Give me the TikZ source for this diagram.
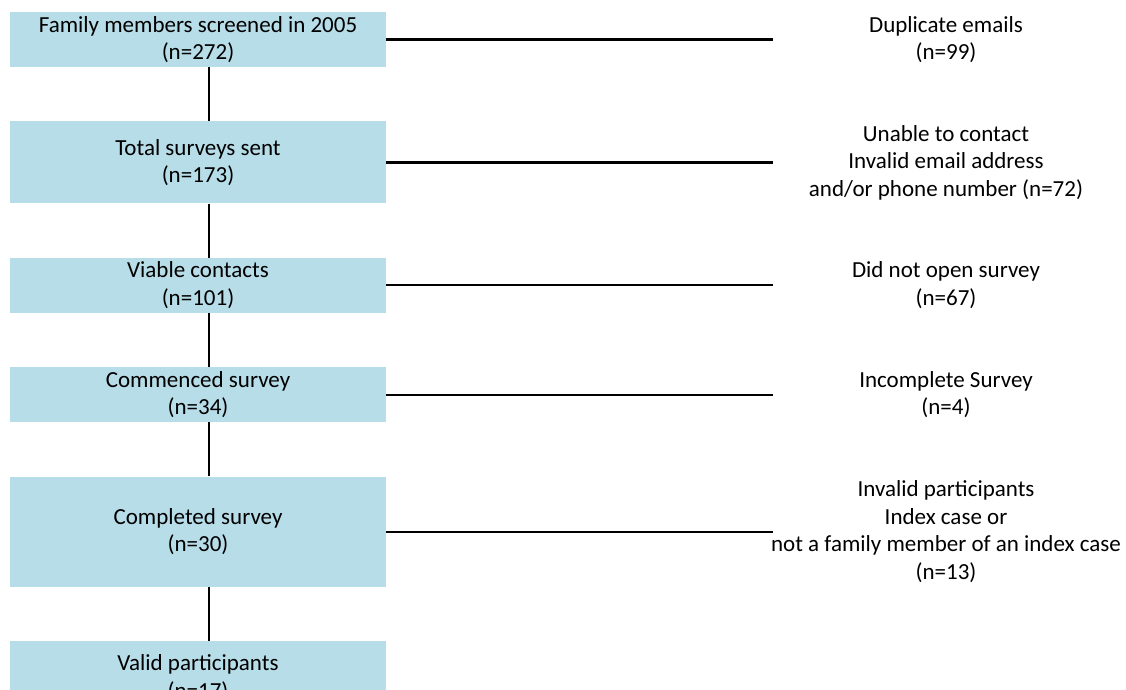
\documentclass[tikz,border=0pt]{standalone}
\usepackage{fontspec}
\setmainfont{Carlito}
\usetikzlibrary{positioning}
\definecolor{boxblue}{HTML}{B7DDE8}

\begin{document}
\begin{tikzpicture}[x=1pt,y=1pt,node distance=54pt,
    stage/.style={fill=boxblue,minimum width=376pt,inner sep=0pt,align=center,
                  font=\fontsize{23}{27.5}\selectfont},
    excl/.style={inner sep=0pt,align=center,
                 font=\fontsize{23}{27.5}\selectfont},
    link/.style={line width=2.2pt}]

                \useasboundingbox (0,0) rectangle (1126,-690);

                \coordinate (spine) at (209,0);
                \coordinate (col) at (946,0);
                \coordinate (stop) at (773,0);

                \node[stage,minimum height=55pt] (s1) at (198,-39.5) {Family members screened in 2005\\(n=272)};
                \node[stage,minimum height=82pt] (s2) [below=of s1] {Total surveys sent\\(n=173)};
                \node[stage,minimum height=55pt] (s3) [below=of s2] {Viable contacts\\(n=101)};
                \node[stage,minimum height=55pt] (s4) [below=of s3] {Commenced survey\\(n=34)};
                \node[stage,minimum height=110pt] (s5) [below=of s4] {Completed survey\\(n=30)};
                \node[stage,minimum height=74pt] (s6) [below=of s5] {Valid participants\\(n=17)};

                \node[excl] (e1) at (s1.east -| col) {Duplicate emails\\(n=99)};
                \node[excl] (e2) at (s2.east -| col) {Unable to contact\\Invalid email address\\and/or phone number (n=72)};
                \node[excl] (e3) at (s3.east -| col) {Did not open survey\\(n=67)};
                \node[excl] (e4) at (s4.east -| col) {Incomplete Survey\\(n=4)};
                \node[excl] (e5) at (s5.east -| col) {Invalid participants\\Index case or\\not a family member of an index case\\(n=13)};

                \foreach \a/\b in {s1/s2,s2/s3,s3/s4,s4/s5,s5/s6}
                    \draw[link] (\a.south -| spine) -- (\b.north -| spine);

                \foreach \i in {1,...,5}
                    \draw[link] (s\i.east) -- (s\i.east -| stop);

            \end{tikzpicture}
\end{document}
